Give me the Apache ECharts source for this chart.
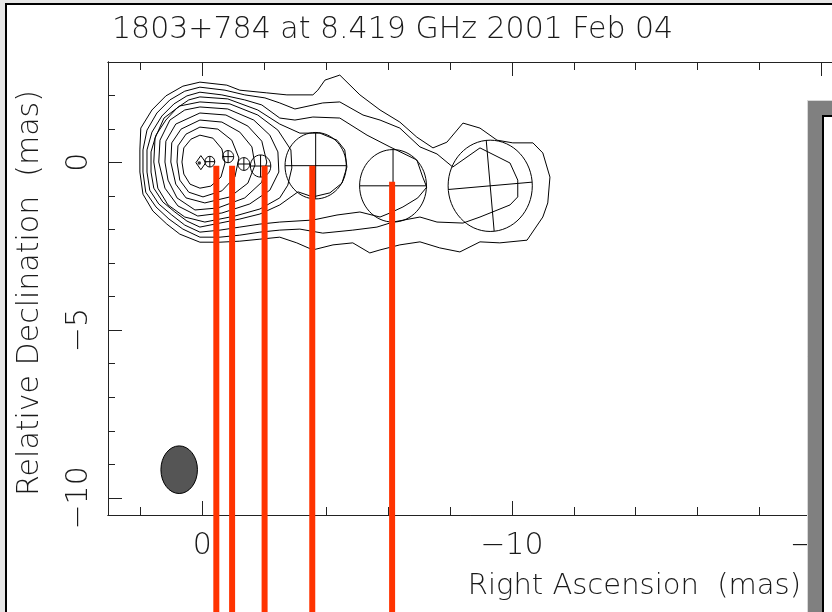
<!DOCTYPE html>
<html>
<head>
<meta charset="utf-8">
<script src="https://cdn.jsdelivr.net/npm/echarts@6.0.0/dist/echarts.min.js"></script>
<style>
html,body{margin:0;padding:0;background:#e6e6e6;}
#chart{width:832px;height:612px;}
</style>
</head>
<body>
<div id="chart"></div>
<script>
// ---- data (mas) ----
const titleText = '1803+784 at 8.419 GHz 2001 Feb 04';
const xTitle = 'Right Ascension  (mas)';
const yTitle = 'Relative Declination  (mas)';

const xMajorTicks = [0, -10, -20];
const xMinorTicks = [2, -2, -4, -6, -8, -12, -14, -16, -18];
const yMajorTicks = [0, -5, -10];
const yMinorTicks = [2, 1, -1, -2, -3, -4, -6, -7, -8, -9];

const contour1 = [[2.02,0.37],[1.99,1.02],[1.63,1.56],[1.18,1.98],[0.63,2.27],[0.08,2.39],[-0.79,2.30],[-1.21,2.15],[-2.08,2.07],[-2.73,2.01],[-3.57,2.01],[-3.73,2.15],[-3.96,2.45],[-4.44,2.60],[-5.09,2.01],[-5.74,1.56],[-6.38,1.20],[-6.93,0.75],[-7.45,0.43],[-7.90,0.60],[-8.42,1.17],[-8.97,1.02],[-9.52,0.66],[-10.03,0.58],[-10.68,0.58],[-11.00,0.28],[-11.23,-0.44],[-11.16,-1.21],[-11.00,-1.63],[-10.49,-2.32],[-9.61,-2.40],[-8.97,-2.37],[-8.32,-2.67],[-7.67,-2.55],[-7.03,-2.37],[-6.38,-2.46],[-5.74,-2.61],[-5.41,-2.70],[-4.86,-2.40],[-4.22,-2.46],[-3.57,-2.61],[-3.05,-2.40],[-2.50,-2.23],[-1.86,-2.29],[-1.21,-2.35],[-0.57,-2.38],[0.08,-2.38],[0.73,-2.14],[1.15,-1.84],[1.60,-1.45],[1.92,-0.95],[2.02,-0.29]];
const contour2 = [[1.92,0.37],[1.79,0.96],[1.47,1.47],[1.05,1.86],[0.57,2.12],[0.08,2.24],[-0.73,2.15],[-1.37,2.01],[-2.02,1.92],[-2.50,1.77],[-2.99,1.59],[-3.89,1.77],[-4.44,1.80],[-5.19,1.41],[-5.74,1.26],[-6.38,1.02],[-7.03,0.46],[-7.58,0.25],[-8.09,-0.14],[-8.97,0.43],[-9.94,-0.02],[-10.19,-0.53],[-10.19,-1.03],[-9.94,-1.27],[-8.97,-1.63],[-8.42,-1.81],[-7.58,-1.78],[-7.03,-1.63],[-6.16,-1.78],[-5.64,-1.93],[-4.86,-2.02],[-3.89,-2.11],[-3.15,-1.99],[-2.50,-2.02],[-1.86,-2.08],[-1.21,-2.17],[-0.57,-2.23],[0.08,-2.23],[0.63,-1.99],[1.08,-1.69],[1.50,-1.33],[1.83,-0.89],[1.92,-0.29]];
const contour3 = [[1.79,0.37],[1.63,0.90],[1.31,1.38],[0.92,1.74],[0.50,1.98],[0.08,2.09],[-0.63,2.01],[-1.37,1.86],[-1.92,1.71],[-2.50,1.32],[-2.99,1.26],[-3.57,1.35],[-4.44,1.32],[-5.32,0.81],[-6.06,0.46],[-6.93,0.07],[-7.12,-0.44],[-7.25,-0.74],[-6.96,-1.06],[-6.48,-1.33],[-6.06,-1.51],[-5.74,-1.63],[-5.09,-1.48],[-4.35,-1.57],[-3.57,-1.72],[-2.50,-1.78],[-1.86,-1.84],[-1.21,-1.93],[-0.57,-2.02],[0.08,-2.08],[0.57,-1.87],[0.99,-1.57],[1.41,-1.24],[1.70,-0.83],[1.79,-0.29]];
const contour4 = [[1.66,0.31],[1.50,0.81],[1.18,1.26],[0.82,1.62],[0.44,1.86],[0.08,1.95],[-0.82,1.89],[-1.79,1.56],[-2.50,1.14],[-3.15,0.87],[-3.80,0.87],[-4.35,0.66],[-4.60,0.37],[-4.67,-0.14],[-4.51,-0.62],[-4.12,-0.91],[-3.57,-1.03],[-3.09,-0.88],[-2.50,-1.27],[-1.86,-1.54],[-1.21,-1.69],[-0.57,-1.81],[0.08,-1.93],[0.50,-1.75],[0.89,-1.48],[1.28,-1.18],[1.57,-0.77],[1.66,-0.29]];
const contour5 = [[1.57,0.01],[1.53,0.72],[1.24,1.32],[0.73,1.68],[0.08,1.80],[-0.89,1.74],[-1.79,1.41],[-2.44,0.96],[-2.86,0.37],[-2.89,-0.17],[-2.76,-0.68],[-2.50,-1.06],[-1.86,-1.39],[-1.05,-1.60],[-0.08,-1.78],[0.57,-1.63],[1.11,-1.27],[1.44,-0.77]];
const contour6 = [[1.41,0.01],[1.37,0.66],[1.05,1.26],[0.57,1.56],[0.08,1.65],[-0.82,1.59],[-1.66,1.26],[-2.18,0.81],[-2.44,0.31],[-2.47,-0.29],[-2.18,-0.83],[-1.53,-1.24],[-0.63,-1.51],[0.15,-1.60],[0.79,-1.30],[1.21,-0.77]];
const contour7 = [[1.21,0.01],[1.18,0.63],[0.86,1.14],[0.08,1.47],[-0.76,1.41],[-1.47,1.08],[-1.92,0.63],[-2.08,0.01],[-1.92,-0.59],[-1.37,-1.06],[-0.50,-1.36],[0.24,-1.42],[0.82,-1.06],[1.11,-0.53]];
const contour8 = [[1.02,0.01],[0.99,0.58],[0.69,0.99],[0.08,1.26],[-0.63,1.20],[-1.21,0.90],[-1.60,0.46],[-1.70,-0.08],[-1.47,-0.62],[-0.89,-1.03],[-0.08,-1.21],[0.53,-1.06],[0.86,-0.65]];
const contour9 = [[0.82,0.01],[0.79,0.49],[0.53,0.84],[0.08,1.05],[-0.50,0.99],[-0.95,0.66],[-1.18,0.13],[-1.05,-0.44],[-0.63,-0.85],[-0.02,-1.03],[0.44,-0.89],[0.73,-0.53]];
const contour10 = [[0.66,0.01],[0.60,0.43],[0.37,0.69],[0.08,0.81],[-0.34,0.72],[-0.63,0.40],[-0.73,-0.02],[-0.60,-0.44],[-0.27,-0.71],[0.08,-0.77],[0.40,-0.65],[0.60,-0.35]];
const contours = [contour1, contour2, contour3, contour4, contour5, contour6, contour7, contour8, contour9, contour10];

// model components: [RA, Dec, radius, cross rotation (deg)]
const components = [
  [-0.24, 0.02, 0.16, 0],
  [-0.83, 0.17, 0.18, 0],
  [-1.34, -0.05, 0.19, 0],
  [-1.88, -0.11, 0.33, 0],
  [-3.66, -0.10, 0.99, 0],
  [-6.16, -0.70, 1.08, 0],
  [-9.30, -0.70, 1.36, 5]
];
// point-like core: [RA, Dec, halfWidth, halfHeight]
const coreDiamond = [[0.05, -0.01, 0.16, 0.21]];
const coreDot = [[0.10, -0.02]];
// beam: [RA, Dec, semi-axis RA, semi-axis Dec]
const beam = [[0.75, -9.16, 0.59, 0.71]];
// red markers: [RA, Dec top]
const redMarkers = [[-0.45, -0.10], [-0.96, -0.10], [-2.01, -0.10], [-3.55, -0.10], [-6.13, -0.58]];
const redBottom = -14;

// ---- chart ----
const FONT = '"DejaVu Sans", sans-serif';
const TXT = '#1a1a1a';
const AX = '#222';
const fmt = v => (v < 0 ? '\u2212' + Math.abs(v) : String(v));

const chart = echarts.init(document.getElementById('chart'), null, {renderer: 'canvas'});

function xAx(pos, ticks, len, labels) {
  return {
    type: 'value', position: pos, min: -21, max: 3.05, inverse: true,
    axisLine: {show: true, onZero: false, lineStyle: {color: AX, width: 1}},
    axisTick: {show: true, inside: true, length: len, customValues: ticks, lineStyle: {color: AX, width: 1}},
    axisLabel: labels ? {show: true, customValues: ticks, formatter: fmt, margin: 16, fontSize: 30, fontFamily: FONT, fontWeight: 200, color: TXT} : {show: false},
    splitLine: {show: false}
  };
}
function yAx(ticks, len, labels) {
  return {
    type: 'value', position: 'left', min: -10.51, max: 2.99,
    axisLine: {show: true, onZero: false, lineStyle: {color: AX, width: 1}},
    axisTick: {show: true, inside: true, length: len, customValues: ticks, lineStyle: {color: AX, width: 1}},
    axisLabel: labels ? {show: true, customValues: ticks, formatter: fmt, rotate: 90, margin: 14, fontSize: 30, fontFamily: FONT, fontWeight: 200, color: TXT} : {show: false},
    splitLine: {show: false}
  };
}

const series = [];
contours.forEach((c, i) => {
  series.push({
    type: 'line', name: 'contour' + (i + 1), data: c.concat([c[0]]),
    xAxisIndex: 0, yAxisIndex: 0, showSymbol: false, symbol: 'none', smooth: false,
    lineStyle: {color: '#000', width: 1}, silent: true, z: 2
  });
});
series.push({
  type: 'custom', name: 'components', data: components, xAxisIndex: 0, yAxisIndex: 0, z: 3, silent: true,
  renderItem: function (params, api) {
    const c = api.coord([api.value(0), api.value(1)]);
    const s = api.size([api.value(2), api.value(2)]);
    const rx = s[0], ry = s[1];
    const a = api.value(3) * Math.PI / 180;
    const co = Math.cos(a), si = Math.sin(a);
    const st = {stroke: '#000', lineWidth: 1, fill: null};
    return {type: 'group', children: [
      {type: 'ellipse', shape: {cx: c[0], cy: c[1], rx: rx, ry: ry}, style: {stroke: '#000', lineWidth: 1, fill: 'transparent'}},
      {type: 'line', shape: {x1: c[0] - rx * co, y1: c[1] + rx * si, x2: c[0] + rx * co, y2: c[1] - rx * si}, style: st},
      {type: 'line', shape: {x1: c[0] - ry * si, y1: c[1] - ry * co, x2: c[0] + ry * si, y2: c[1] + ry * co}, style: st}
    ]};
  }
});
series.push({
  type: 'custom', name: 'core', data: coreDiamond, xAxisIndex: 0, yAxisIndex: 0, z: 3, silent: true,
  renderItem: function (params, api) {
    const x = api.value(0), y = api.value(1), w = api.value(2), h = api.value(3);
    const pts = [api.coord([x - w, y]), api.coord([x, y + h]), api.coord([x + w, y]), api.coord([x, y - h])];
    return {type: 'polygon', shape: {points: pts}, style: {stroke: '#000', lineWidth: 1, fill: 'transparent'}};
  }
});
series.push({
  type: 'scatter', name: 'coreDot', data: coreDot, xAxisIndex: 0, yAxisIndex: 0, z: 3, silent: true,
  symbol: 'circle', symbolSize: 3.5, itemStyle: {color: '#000'}
});
series.push({
  type: 'custom', name: 'beam', data: beam, xAxisIndex: 0, yAxisIndex: 0, z: 3, silent: true,
  renderItem: function (params, api) {
    const c = api.coord([api.value(0), api.value(1)]);
    const s = api.size([api.value(2), api.value(3)]);
    return {type: 'ellipse', shape: {cx: c[0], cy: c[1], rx: s[0], ry: s[1]}, style: {fill: '#555555', stroke: '#000', lineWidth: 1}};
  }
});
series.push({
  type: 'custom', name: 'markers', data: redMarkers, xAxisIndex: 0, yAxisIndex: 0, z: 5, silent: true, clip: false,
  renderItem: function (params, api) {
    const p1 = api.coord([api.value(0), api.value(1)]);
    const p2 = api.coord([api.value(0), redBottom]);
    return {type: 'line', shape: {x1: p1[0], y1: p1[1], x2: p2[0], y2: p2[1]}, style: {stroke: '#ff3300', lineWidth: 6}};
  }
});

const option = {
  animation: false,
  backgroundColor: '#e6e6e6',
  grid: {left: 108, top: 62, width: 744.3, height: 453, containLabel: false, outerBoundsMode: 'none'},
  xAxis: [
    xAx('bottom', xMajorTicks, 14, true),
    xAx('bottom', xMinorTicks, 8, false),
    xAx('top', xMajorTicks, 14, false),
    xAx('top', xMinorTicks, 8, false)
  ],
  yAxis: [
    yAx(yMajorTicks, 14, true),
    yAx(yMinorTicks, 7, false)
  ],
  graphic: [
    {type: 'rect', z: -100, shape: {x: 6, y: 4, width: 860, height: 640}, style: {fill: '#ffffff', stroke: '#000', lineWidth: 2}, silent: true},
    {type: 'text', z: 10, style: {text: titleText, x: 112, y: 30, align: 'left', verticalAlign: 'middle', textAlign: 'left', textVerticalAlign: 'middle', fontSize: 30, fontFamily: FONT, fontWeight: 200, fill: TXT}},
    {type: 'text', z: 10, style: {text: xTitle, x: 801, y: 586, align: 'right', verticalAlign: 'middle', textAlign: 'right', textVerticalAlign: 'middle', fontSize: 29, fontFamily: FONT, fontWeight: 200, fill: TXT}},
    {type: 'text', z: 10, x: 30, y: 293, rotation: Math.PI / 2, style: {text: yTitle, x: 0, y: 0, align: 'center', verticalAlign: 'middle', textAlign: 'center', textVerticalAlign: 'middle', fontSize: 30, fontFamily: FONT, fontWeight: 200, fill: TXT}},
    {type: 'rect', z: 100, shape: {x: 807.5, y: 100.5, width: 40, height: 530}, style: {fill: '#808080', stroke: '#d8d8d8', lineWidth: 1}, silent: true},
    {type: 'rect', z: 101, shape: {x: 823, y: 116, width: 30, height: 520}, style: {fill: '#ffffff', stroke: '#000', lineWidth: 2}, silent: true}
  ],
  series: series
};
chart.setOption(option);
</script>
</body>
</html>
